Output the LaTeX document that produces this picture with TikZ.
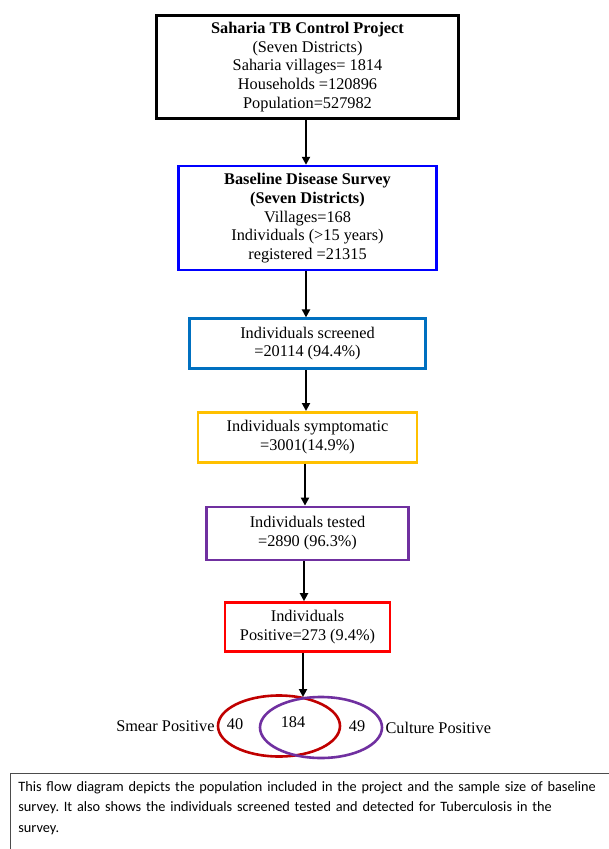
\documentclass[tikz,border=0pt]{standalone}
\usepackage{fontspec}
\setmainfont{Liberation Serif}
\newfontfamily\notefont{Carlito}
\usetikzlibrary{arrows.meta,positioning,shapes.geometric}
\definecolor{scrblue}{HTML}{0070C0}
\definecolor{symyellow}{HTML}{FFC000}
\definecolor{tstpurple}{HTML}{7030A0}
\definecolor{smearred}{HTML}{C00000}
\frenchspacing

\begin{document}
\begin{tikzpicture}[x=1pt,y=-1pt,
    every node/.style={font=\fontsize{16.3}{18.7}\selectfont, align=center},
    stage/.style={draw, line width=2.6pt, fill=white, inner sep=2pt},
    flow/.style={-{Triangle[length=8pt,width=8pt]}, line width=2.4pt},
    venn/.style={ellipse, draw, line width=2.6pt, minimum width=122pt, minimum height=61pt}]
		\useasboundingbox (0,0) rectangle (609,849);
		\node[stage, minimum width=302pt, minimum height=103pt] (project) at (307.5,67) {\textbf{Saharia TB Control Project}\\(Seven Districts)\\Saharia villages= 1814\\Households =120896\\Population=527982};
		\node[stage, draw=blue, minimum width=258pt, minimum height=104pt, below=45pt of project] (survey) {\textbf{Baseline Disease Survey}\\\textbf{(Seven Districts)}\\Villages=168\\Individuals (>15 years)\\registered =21315};
		\node[stage, draw=scrblue, minimum width=236pt, minimum height=50pt, below=46pt of survey] (screened) {Individuals screened\\=20114 (94.4\%)};
		\node[stage, draw=symyellow, minimum width=219pt, minimum height=50pt, below=41pt of screened] (symptom) {Individuals symptomatic\\=3001(14.9\%)};
		\node[stage, draw=tstpurple, minimum width=202pt, minimum height=53pt, below=42pt of symptom] (tested) {Individuals tested\\=2890 (96.3\%)};
		\node[stage, draw=red, minimum width=165pt, minimum height=49pt, below=40pt of tested] (positive) {Individuals\\Positive=273 (9.4\%)};
		% venn of smear and culture results
		\node[venn, draw=smearred] (smear) at (279,726) {};
		\node[venn, draw=tstpurple] (culture) at (321,727.5) {};
		\coordinate (meet) at (303,697);
		\node (onlysmear) at (235,724) {40};
		\node (both) at (293,722) {184};
		\node (onlyculture) at (357,726) {49};
		\node[anchor=east, inner sep=2pt] (smearlbl) at (smear.west) {Smear Positive};
		\node[anchor=west, inner sep=2pt] (culturelbl) at (culture.east) {Culture Positive};
		\draw[flow] (project.south -| 306,0) -- (survey.north -| 306,0);
		\draw[flow] (survey.south -| 306,0) -- (screened.north -| 306,0);
		\draw[flow] (screened.south -| 306,0) -- (symptom.north -| 306,0);
		\draw[flow] (symptom.south -| 305,0) -- (tested.north -| 305,0);
		\draw[flow] (tested.south -| 304,0) -- (positive.north -| 304,0);
		\draw[flow] (positive.south -| meet) -- (meet);
		% note box at the foot
		\node[draw=black!70, line width=0.8pt, anchor=north west, inner xsep=8pt, inner ysep=8pt, text width=604pt, align=left, font=\notefont\fontsize{14.3}{20.5}\selectfont] (note) at (10,773) {This flow diagram depicts the population included in the project and the sample size of baseline\\survey. It also shows the individuals screened tested and detected for Tuberculosis in the\\survey.\\[30pt]\mbox{}};
	\end{tikzpicture}
\end{document}
